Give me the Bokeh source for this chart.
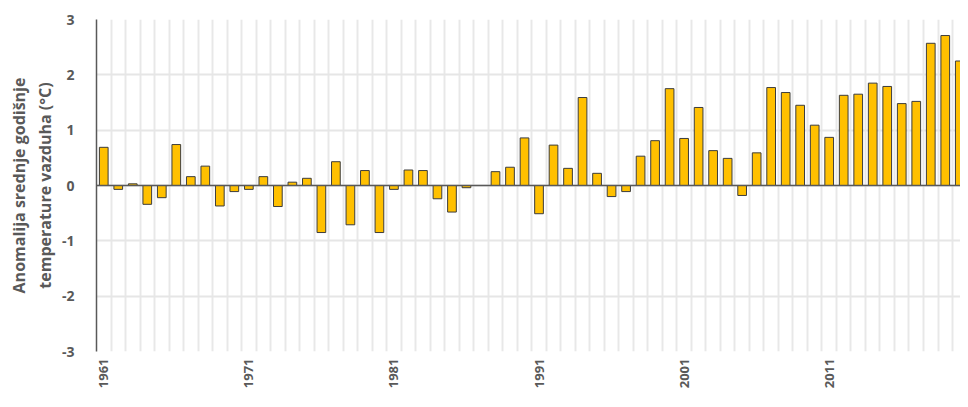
import math
from bokeh.plotting import figure
from bokeh.models import FixedTicker, Span, Range1d, ColumnDataSource
from bokeh.embed import file_html
from bokeh.resources import INLINE

years = list(range(1961, 2021))
anomaly = [
    0.69, -0.07, 0.03, -0.34, -0.22, 0.74, 0.16, 0.35, -0.37, -0.11,
    -0.07, 0.16, -0.38, 0.06, 0.13, -0.85, 0.43, -0.71, 0.27, -0.85,
    -0.07, 0.28, 0.27, -0.24, -0.48, -0.04, 0.0, 0.25, 0.33, 0.86,
    -0.51, 0.73, 0.31, 1.59, 0.22, -0.20, -0.11, 0.53, 0.81, 1.75,
    0.85, 1.41, 0.63, 0.49, -0.18, 0.59, 1.77, 1.68, 1.45, 1.09,
    0.87, 1.63, 1.65, 1.85, 1.79, 1.48, 1.52, 2.57, 2.71, 2.25,
]
x_tick_years = [1961, 1971, 1981, 1991, 2001, 2011]
y_ticks = [-3, -2, -1, 0, 1, 2, 3]
y_tick_labels = ["-3", "-2", "-1", "0", "1", "2", "3"]
y_label = "Anomalija srednje godišnje\ntemperature vazduha (°C)"

src = ColumnDataSource(data=dict(year=years, val=anomaly))

p = figure(width=960, height=391, output_backend="svg", toolbar_location=None,
           x_range=Range1d(1960.5, 2020.05), y_range=Range1d(-3, 3),
           min_border_left=96, min_border_right=0, min_border_top=19,
           min_border_bottom=0)
p.outline_line_color = None
p.background_fill_color = "white"

# grids
p.xgrid.ticker = FixedTicker(ticks=[y - 0.5 for y in years] + [years[-1] + 0.5])
p.xgrid.grid_line_color = "#e8e8e8"
p.xgrid.grid_line_width = 2
p.ygrid.ticker = FixedTicker(ticks=y_ticks)
p.ygrid.grid_line_color = "#e6e6e6"
p.ygrid.grid_line_width = 2

p.vbar(x="year", top="val", width=0.6, source=src,
       fill_color="#FFC000", line_color="#3c3c3c", line_width=1)

p.add_layout(Span(location=0, dimension="width", line_color="#595959", line_width=1.5))

# y axis
yax = p.yaxis[0]
yax.ticker = FixedTicker(ticks=y_ticks)
yax.major_label_overrides = {t: lab for t, lab in zip(y_ticks, y_tick_labels)}
yax.axis_line_color = "#595959"
yax.axis_line_width = 1.5
yax.major_tick_line_color = None
yax.minor_tick_line_color = None
yax.major_label_standoff = 16
yax.major_label_text_font = "Open Sans"
yax.major_label_text_font_style = "bold"
yax.major_label_text_font_size = "14px"
yax.major_label_text_color = "#595959"
yax.axis_label = y_label
yax.axis_label_text_font = "Open Sans"
yax.axis_label_text_font_style = "bold"
yax.axis_label_text_font_size = "16px"
yax.axis_label_text_color = "#595959"
yax.axis_label_standoff = 3

# x axis
xax = p.xaxis[0]
xax.ticker = FixedTicker(ticks=x_tick_years)
xax.axis_line_color = None
xax.major_tick_line_color = None
xax.minor_tick_line_color = None
xax.major_tick_out = 0
xax.major_tick_in = 0
xax.major_label_orientation = math.pi / 2
xax.major_label_standoff = 7
xax.major_label_text_font = "Open Sans"
xax.major_label_text_font_style = "bold"
xax.major_label_text_font_size = "13px"
xax.major_label_text_color = "#595959"

open("out.html", "w").write(file_html(p, INLINE))
